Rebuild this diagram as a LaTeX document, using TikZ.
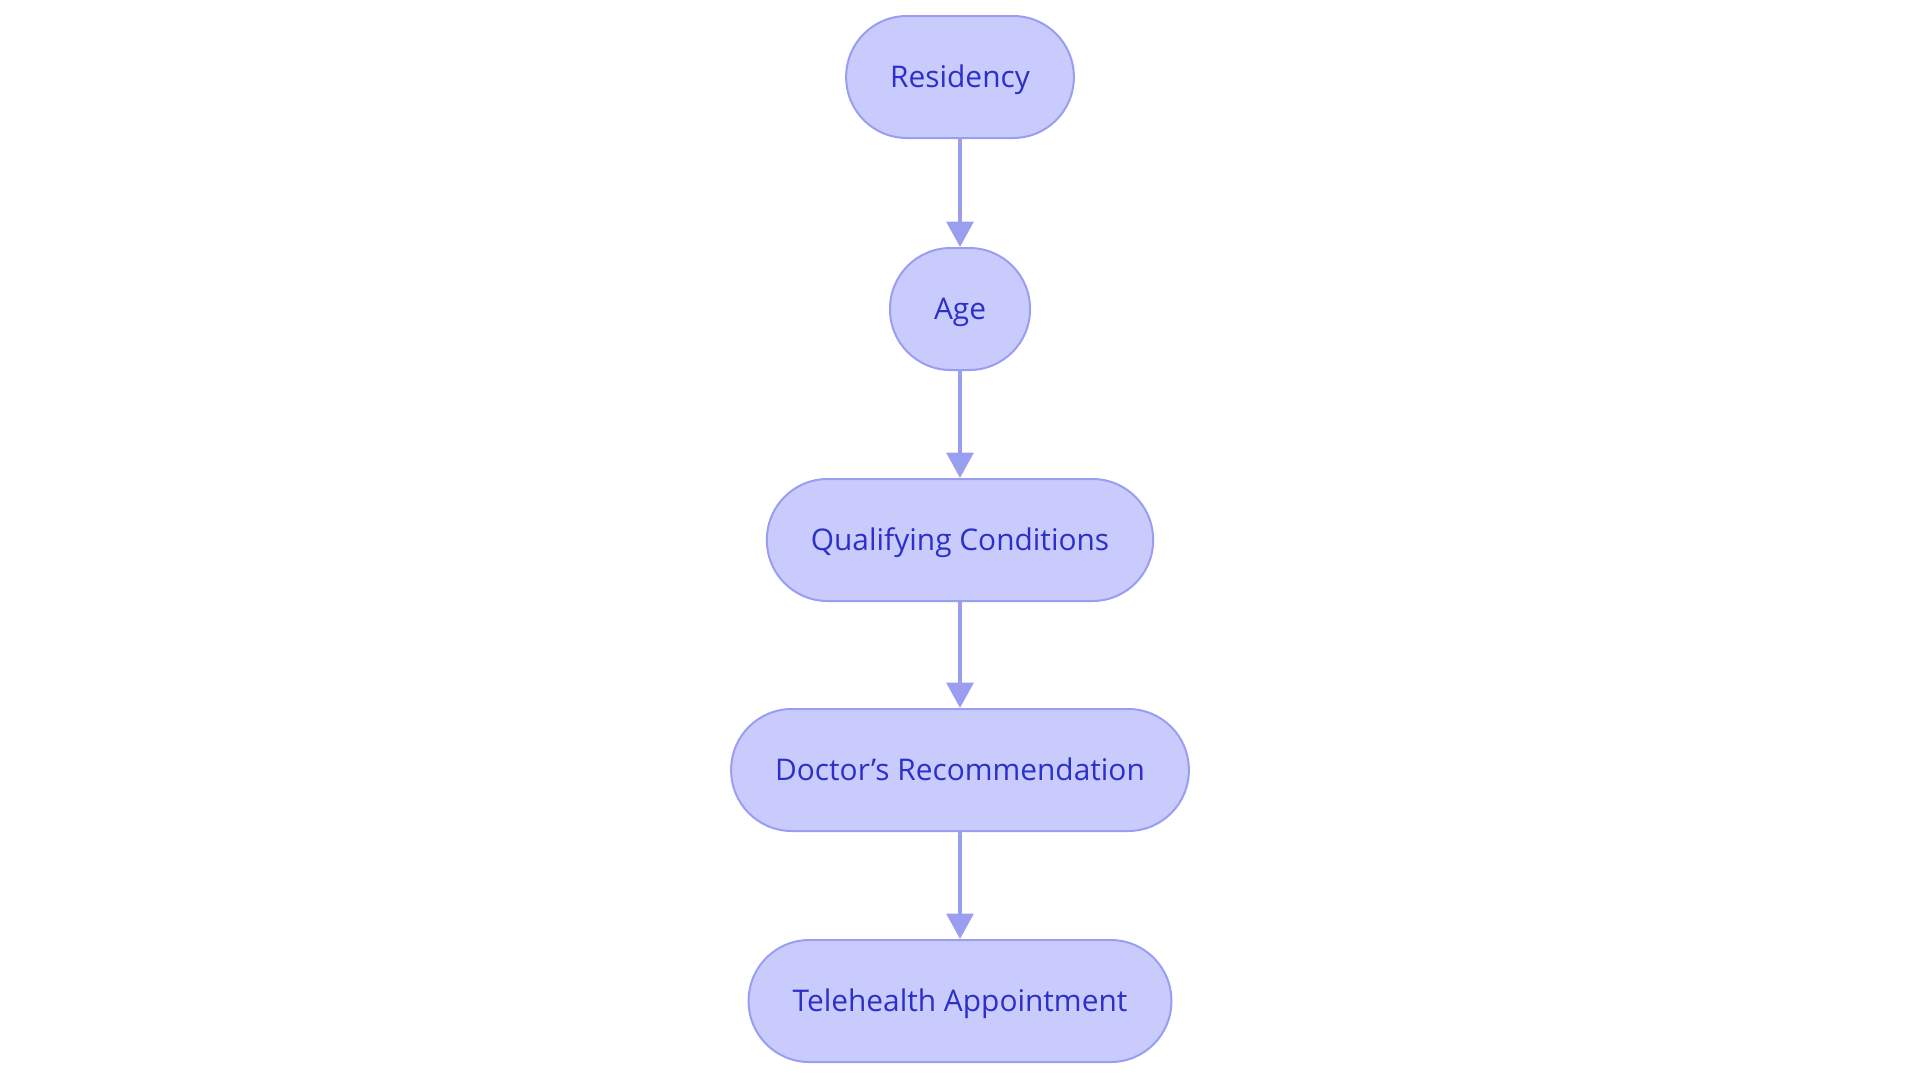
\documentclass[tikz,border=0pt]{standalone}
\usepackage{fontspec}
\setmainfont{Open Sans}
\usetikzlibrary{arrows.meta}

\definecolor{stepfill}{HTML}{C9CBFD}
\definecolor{stepline}{HTML}{9A9EF0}
\definecolor{steptext}{HTML}{2B30C9}

\tikzset{
  stepbox/.style={draw=stepline, fill=stepfill, line width=1.5pt,
    rounded corners=45.5pt, minimum height=91.5pt, inner xsep=33pt,
    text height=17pt, text depth=1.8pt,
    text=steptext, font=\fontsize{22.4}{26}\selectfont},
  steparrow/.style={draw=stepline, line width=3pt,
    -{Triangle[length=19pt,width=20pt]}}
}

\begin{document}
\begin{tikzpicture}[x=0.75pt,y=0.75pt]
  \useasboundingbox (0,0) rectangle (1920,-1083);
  % the steps, top to bottom
  \node [stepbox] (residency) at (960,-77) {Residency};
  \node [stepbox] (age) at (960,-309) {Age};
  \node [stepbox] (conditions) at (960,-540) {Qualifying Conditions};
  \node [stepbox] (recommendation) at (960,-770) {Doctor’s Recommendation};
  \node [stepbox] (telehealth) at (960,-1001) {Telehealth Appointment};
  % arrows between them
  \draw [steparrow] (residency) -- (age);
  \draw [steparrow] (age) -- (conditions);
  \draw [steparrow] (conditions) -- (recommendation);
  \draw [steparrow] (recommendation) -- (telehealth);
\end{tikzpicture}
\end{document}
